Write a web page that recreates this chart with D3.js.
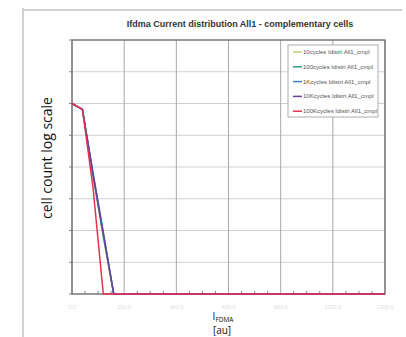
<!DOCTYPE html>
<html>
<head>
<meta charset="utf-8">
<script src="https://cdn.jsdelivr.net/npm/d3@7"></script>
<style>
  body { margin: 0; background: #fff; }
  svg { display: block; }
</style>
</head>
<body>
<div id="chart"></div>
<script>
// current bins (x) and cell counts per cycle count (y, log scale)
var bins = [0, 40, 80, 120, 160, 200, 400, 600, 800, 1000, 1200];
var seriesNames = ["10cycles Idistri All1_cmpl", "100cycles Idistri All1_cmpl", "1Kcycles Idistri All1_cmpl",
                   "10Kcycles Idistri All1_cmpl", "100Kcycles Idistri All1_cmpl"];
var counts10 =   [1e6, 6.5e5, 5500, 60, 1, 1, 1, 1, 1, 1, 1];
var counts100 =  [1e6, 6.5e5, 6000, 70, 1, 1, 1, 1, 1, 1, 1];
var counts1K =   [1e6, 6.5e5, 7000, 90, 1, 1, 1, 1, 1, 1, 1];
var counts10K =  [1e6, 6.5e5, 6500, 80, 1, 1, 1, 1, 1, 1, 1];
var counts100K = [1e6, 6.5e5, 2500, 1, 1, 1, 1, 1, 1, 1, 1];
var colors = ["#b9cf74", "#2f9e78", "#3f83c4", "#6b3f9c", "#e6304e"];
var xTicks = [0, 200, 400, 600, 800, 1000, 1200];
var xTickLabels = ["0.0", "200.0", "400.0", "600.0", "800.0", "1000.0", "1200.0"];
var yTicks = [1, 1e1, 1e2, 1e3, 1e4, 1e5, 1e6, 1e7, 1e8];

var W = 406, H = 337;
var margin = {top: 40, right: 21, bottom: 43, left: 72};
var pw = W - margin.left - margin.right, ph = H - margin.top - margin.bottom;

var svg = d3.select("#chart").append("svg").attr("width", W).attr("height", H);

// outer frame (left + top)
svg.append("line").attr("x1", 23).attr("x2", 23).attr("y1", 8).attr("y2", H)
    .attr("stroke", "#c4c4c4").attr("stroke-width", 1.5);
svg.append("line").attr("x1", 23).attr("x2", 402).attr("y1", 10).attr("y2", 10)
    .attr("stroke", "#c4c4c4").attr("stroke-width", 1.5);

svg.append("text").attr("x", 240).attr("y", 27).attr("text-anchor", "middle")
    .style("font-family", "'Liberation Sans Narrow', 'Liberation Sans', Arial, sans-serif")
    .style("font-size", "9px").style("font-weight", "bold").attr("fill", "#333")
    .text("Ifdma Current distribution All1 - complementary  cells");

var g = svg.append("g").attr("transform", "translate(" + margin.left + "," + margin.top + ")");

var x = d3.scaleLinear().domain([0, 1200]).range([0, pw]);
var y = d3.scaleLog().domain([1, 1e8]).range([ph, 0]);

// grid
g.selectAll(".hgrid").data(yTicks).enter().append("line")
    .attr("x1", 0).attr("x2", pw).attr("y1", function(d){ return y(d); }).attr("y2", function(d){ return y(d); })
    .attr("stroke", "#d0d0d0").attr("stroke-width", 1);
g.selectAll(".vgrid").data(xTicks).enter().append("line")
    .attr("y1", 0).attr("y2", ph).attr("x1", function(d){ return x(d); }).attr("x2", function(d){ return x(d); })
    .attr("stroke", "#a8a8a8").attr("stroke-width", 1);

// minor ticks on x axis
var minor = x.ticks(30).filter(function(d){ return xTicks.indexOf(d) < 0; });
g.selectAll(".minor").data(minor).enter().append("line")
    .attr("x1", function(d){ return x(d); }).attr("x2", function(d){ return x(d); })
    .attr("y1", ph).attr("y2", ph - 3).attr("stroke", "#888");

// left ticks
g.selectAll(".ytick").data(yTicks).enter().append("line")
    .attr("x1", -3).attr("x2", 0).attr("y1", function(d){ return y(d); }).attr("y2", function(d){ return y(d); })
    .attr("stroke", "#888");

// plot border
g.append("rect").attr("width", pw).attr("height", ph).attr("fill", "none").attr("stroke", "#666").attr("stroke-width", 1.2);

// x tick labels (faint)
g.selectAll(".xlab").data(xTicks).enter().append("text")
    .attr("x", function(d){ return x(d); }).attr("y", ph + 15).attr("text-anchor", "middle")
    .style("font-family", "Arial, sans-serif").style("font-size", "5.5px").attr("fill", "#dcdcdc")
    .text(function(d, i){ return xTickLabels[i]; });

// series
var allSeries = [counts10, counts100, counts1K, counts10K, counts100K];
var line = d3.line().x(function(d, i){ return x(bins[i]); }).y(function(d){ return y(d); });
allSeries.forEach(function(s, i){
    g.append("path").datum(s).attr("d", line).attr("fill", "none")
        .attr("stroke", colors[i]).attr("stroke-width", 1.5);
});

// legend
var leg = svg.append("g").attr("transform", "translate(288,45)");
leg.append("rect").attr("width", 90).attr("height", 72).attr("fill", "#fff").attr("stroke", "#999").attr("stroke-width", 0.8);
seriesNames.forEach(function(n, i){
    var yy = 7 + i * 14.8;
    leg.append("line").attr("x1", 5).attr("x2", 14).attr("y1", yy).attr("y2", yy)
        .attr("stroke", colors[i]).attr("stroke-width", 1.5);
    leg.append("text").attr("x", 15).attr("y", yy + 2)
        .style("font-family", "'Liberation Sans Narrow', 'Liberation Sans', Arial, sans-serif")
        .style("font-size", "6px").attr("fill", "#555").text(n);
});

// axis titles
svg.append("text").attr("transform", "translate(52,158) rotate(-90)").attr("text-anchor", "middle")
    .style("font-family", "'Open Sans', sans-serif").style("font-size", "14px").attr("fill", "#111")
    .text("cell count log scale");
var xt = svg.append("text").attr("x", 223).attr("y", 320).attr("text-anchor", "middle")
    .style("font-family", "'Open Sans', sans-serif").style("font-size", "10px").attr("fill", "#111");
xt.append("tspan").text("I");
xt.append("tspan").attr("dy", 2).style("font-size", "6.5px").text("FDMA");
svg.append("text").attr("x", 222).attr("y", 334).attr("text-anchor", "middle")
    .style("font-family", "'Open Sans', sans-serif").style("font-size", "10px").attr("fill", "#111")
    .text("[au]");
</script>
</body>
</html>
